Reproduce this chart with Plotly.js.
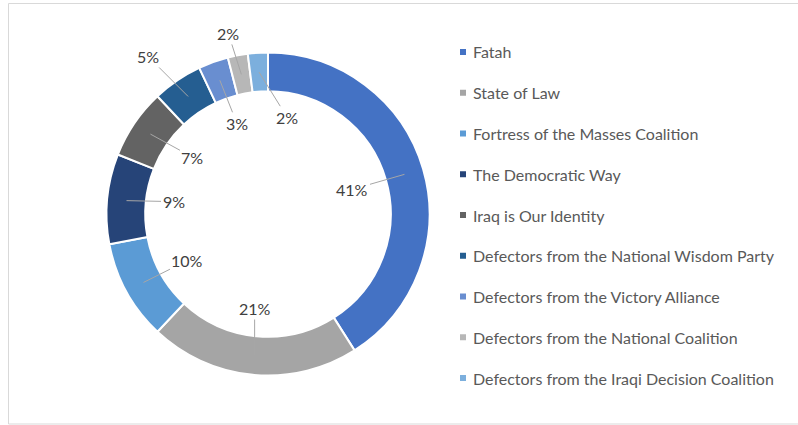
<!DOCTYPE html>
<html><head><meta charset="utf-8">
<script src="https://cdn.plot.ly/plotly-3.0.1.min.js"></script>
<style>html,body{margin:0;padding:0;background:#fff}#chart{width:798px;height:425px}</style>
</head><body><div id="chart"></div>
<script>
// ---- data ----
const labels = [
  "Fatah",
  "State of Law",
  "Fortress of the Masses Coalition",
  "The Democratic Way",
  "Iraq is Our Identity",
  "Defectors from the National Wisdom Party",
  "Defectors from the Victory Alliance",
  "Defectors from the National Coalition",
  "Defectors from the Iraqi Decision Coalition"
];
const values = [41, 21, 10, 9, 7, 5, 3, 2, 2];
const colors = ["#4472C4", "#A5A5A5", "#5B9BD5", "#264478", "#636363", "#255E91", "#698ED0", "#B7B7B7", "#7CAFDD"];

// ---- layout config ----
const W = 798, H = 425;
const cx = 268, cy = 214, rOut = 161.5, hole = 0.76;
const FONT = "Lato, 'Open Sans', sans-serif";
// label text offsets (pixels) from the slice's ring-midpoint
const labelOffsets = [[-52,15],[0,-47],[44,-22],[47,1],[42,23],[-40,-40],[17,43],[-13,-41],[28,45]];
const legendX = 463, legendTop = 52, legendStep = 40.75, legendSq = 6;

const total = values.reduce((a, b) => a + b, 0);
const trace = {
  type: "pie",
  labels: labels,
  values: values,
  sort: false,
  direction: "clockwise",
  rotation: 0,
  hole: hole,
  textinfo: "none",
  hoverinfo: "label+percent",
  marker: { colors: colors, line: { color: "#FFFFFF", width: 2 } },
  domain: { x: [(cx - rOut) / W, (cx + rOut) / W], y: [(H - cy - rOut) / H, (H - cy + rOut) / H] },
  showlegend: false
};

const annotations = [];
const shapes = [];
let cum = 0;
const rMid = rOut * (1 + hole) / 2;
values.forEach((v, i) => {
  const a = 2 * Math.PI * (cum + v / 2) / total;
  cum += v;
  const px = cx + rMid * Math.sin(a), py = cy - rMid * Math.cos(a);
  annotations.push({
    xref: "paper", yref: "paper", x: px / W, y: 1 - py / H,
    text: Math.round(v / total * 100) + "%",
    showarrow: true, arrowhead: 0, arrowwidth: 1, arrowcolor: "#A6A6A6",
    ax: labelOffsets[i][0], ay: labelOffsets[i][1], standoff: 0,
    font: { family: FONT, size: 16, color: "#404040" }
  });
});

// legend (manual, to match row spacing)
labels.forEach((lab, i) => {
  const yc = legendTop + i * legendStep;
  shapes.push({
    type: "rect", xref: "paper", yref: "paper",
    x0: (legendX - legendSq / 2) / W, x1: (legendX + legendSq / 2) / W,
    y0: 1 - (yc + legendSq / 2) / H, y1: 1 - (yc - legendSq / 2) / H,
    fillcolor: colors[i], line: { width: 0 }
  });
  annotations.push({
    xref: "paper", yref: "paper", x: (legendX + 8) / W, y: 1 - yc / H,
    xanchor: "left", yanchor: "middle", showarrow: false, text: lab,
    font: { family: FONT, size: 16, color: "#595959" }
  });
});

// chart frame
shapes.push({
  type: "rect", xref: "paper", yref: "paper",
  x0: 8.5 / W, x1: 1.01, y0: 1 - 424 / H, y1: 1 - 3.5 / H,
  line: { color: "#D9D9D9", width: 1 }, fillcolor: "rgba(0,0,0,0)"
});

const layout = {
  width: W, height: H,
  margin: { l: 0, r: 0, t: 0, b: 0 },
  paper_bgcolor: "#FFFFFF",
  showlegend: false,
  annotations: annotations,
  shapes: shapes,
  font: { family: FONT }
};
Plotly.newPlot("chart", [trace], layout, { displayModeBar: false, staticPlot: true });
</script>
</body></html>
